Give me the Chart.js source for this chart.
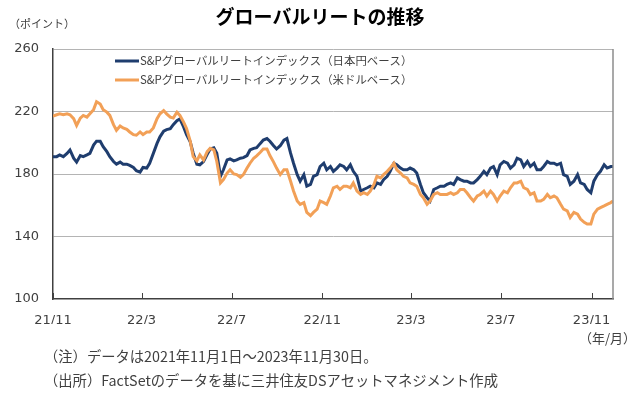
<!DOCTYPE html>
<html>
<head>
<meta charset="utf-8">
<script src="https://cdn.jsdelivr.net/npm/chart.js@4.4.1/dist/chart.umd.min.js"></script>
<style>
body{margin:0;background:#fff}
#wrap{width:640px;height:398px}
</style>
</head>
<body>
<div id="wrap"><canvas id="reitChart" width="640" height="398"></canvas></div>
<script>

/* =========================
   DATA (~every 4-5 days)
========================= */

let dates = [
"2021-11-01","2021-11-06","2021-11-10","2021-11-15","2021-11-20","2021-11-24","2021-11-29","2021-12-03","2021-12-08","2021-12-12",
"2021-12-17","2021-12-21","2021-12-26","2021-12-30","2022-01-04","2022-01-08","2022-01-13","2022-01-17","2022-01-22","2022-01-26",
"2022-01-31","2022-02-04","2022-02-09","2022-02-13","2022-02-18","2022-02-22","2022-02-27","2022-03-03","2022-03-08","2022-03-12",
"2022-03-17","2022-03-22","2022-03-26","2022-03-31","2022-04-04","2022-04-09","2022-04-13","2022-04-18","2022-04-22","2022-04-27",
"2022-05-01","2022-05-06",
"2022-05-10","2022-05-15","2022-05-19","2022-05-24","2022-05-29","2022-06-02","2022-06-07","2022-06-11","2022-06-16","2022-06-20",
"2022-06-25","2022-06-29","2022-07-04","2022-07-08","2022-07-13","2022-07-17","2022-07-22","2022-07-26","2022-07-31","2022-08-04",
"2022-08-09","2022-08-13","2022-08-18","2022-08-22","2022-08-27","2022-08-31","2022-09-05","2022-09-10","2022-09-14","2022-09-19",
"2022-09-23","2022-09-28","2022-10-02","2022-10-07","2022-10-11","2022-10-16","2022-10-20","2022-10-25","2022-10-29","2022-11-03",
"2022-11-07","2022-11-12","2022-11-16",
"2022-11-21","2022-11-25","2022-11-30","2022-12-04","2022-12-09","2022-12-13","2022-12-18","2022-12-23","2022-12-27","2023-01-01",
"2023-01-05","2023-01-10","2023-01-14","2023-01-19","2023-01-23","2023-01-28","2023-02-01","2023-02-06","2023-02-10","2023-02-15",
"2023-02-19","2023-02-24","2023-02-28","2023-03-05","2023-03-09","2023-03-14","2023-03-18","2023-03-23","2023-03-27","2023-04-01",
"2023-04-06","2023-04-10","2023-04-15","2023-04-19","2023-04-24","2023-04-28","2023-05-03","2023-05-07","2023-05-12","2023-05-16",
"2023-05-21","2023-05-25",
"2023-05-30","2023-06-03","2023-06-08","2023-06-12","2023-06-17","2023-06-21","2023-06-26","2023-06-30","2023-07-05","2023-07-10",
"2023-07-14","2023-07-19","2023-07-23","2023-07-28","2023-08-01","2023-08-06","2023-08-10","2023-08-15","2023-08-19","2023-08-24",
"2023-08-28","2023-09-02","2023-09-06","2023-09-11","2023-09-15","2023-09-20","2023-09-24","2023-09-29","2023-10-03","2023-10-08",
"2023-10-13","2023-10-17","2023-10-22","2023-10-26","2023-10-31","2023-11-04","2023-11-09","2023-11-13","2023-11-18","2023-11-22",
"2023-11-27","2023-11-30"
]

let yenValues = [
191.1,191.1,192.2,191.1,193.2,195.4,190.1,187.6,191.8,191.1,
192.2,193.2,198.5,201.0,201.0,197.5,194.3,191.1,188.0,186.3,
187.6,186.3,186.3,185.5,184.2,182.1,181.2,184.2,183.8,186.9,
193.2,199.6,203.8,207.4,208.4,209.0,211.6,214.1,215.3,210.1,
205.2,200.6,
193.3,186.3,185.9,188.0,192.6,196.0,196.8,193.3,178.5,182.7,
189.0,189.7,188.4,189.0,190.1,190.5,191.8,195.4,196.4,196.8,
199.6,201.7,202.7,201.0,198.1,196.0,198.1,201.7,202.7,193.3,
186.9,179.6,175.4,179.6,172.2,173.3,178.5,179.6,184.8,186.9,
182.7,184.8,181.7,
183.8,185.9,184.8,182.7,185.9,181.7,178.5,169.1,170.1,171.2,
172.2,171.2,174.3,173.3,176.4,178.5,181.7,186.9,185.9,183.8,
182.7,182.7,183.8,182.7,180.6,173.3,168.0,164.8,162.7,170.1,
171.2,172.2,172.2,173.3,174.3,173.3,177.5,176.4,175.4,175.4,
174.3,174.3,
176.4,178.5,181.7,179.6,183.8,184.8,179.6,185.9,188.0,186.9,
183.8,185.9,190.1,189.0,184.8,188.0,184.8,186.9,182.7,182.7,
184.8,188.0,186.9,186.9,185.9,186.9,179.6,178.5,173.3,175.4,
179.6,174.3,173.3,170.1,168.0,175.4,179.6,181.7,185.9,183.8,
184.8,184.8
]

let usdValues = [
217.0,217.9,218.5,217.9,218.5,217.9,215.4,211.1,215.8,217.5,
216.4,218.5,221.2,226.3,224.8,221.2,219.6,217.5,211.6,208.0,
210.7,209.5,208.6,206.9,205.2,204.8,206.9,205.2,206.9,206.9,
209.5,215.4,218.5,220.6,218.5,216.4,215.8,219.6,217.5,213.2,
209.1,201.0,
191.2,188.4,192.2,189.0,194.3,196.4,195.4,188.0,174.3,176.4,
180.6,182.7,180.0,179.6,177.9,179.6,183.8,186.9,190.1,191.6,
193.9,196.0,196.0,191.8,187.6,183.8,179.6,182.7,182.7,175.4,
169.1,162.7,160.6,161.7,155.4,153.3,155.4,157.5,162.7,161.7,
160.6,165.9,171.2,
172.2,170.1,172.2,172.2,171.2,174.3,169.1,166.9,168.0,166.9,
169.1,173.3,178.5,177.5,179.6,181.7,183.8,186.9,182.7,180.6,
178.5,177.5,174.3,173.3,172.2,166.9,164.8,160.6,162.7,166.9,
168.0,166.9,166.9,166.9,168.0,166.9,168.0,170.1,170.1,168.0,
164.8,162.7,
165.9,166.9,169.1,165.9,169.1,166.9,162.7,165.9,169.1,168.0,
171.2,174.3,174.3,175.4,171.2,170.1,166.9,168.0,162.7,162.7,
163.8,166.9,164.8,165.9,164.8,160.6,157.5,156.4,152.2,155.4,
154.3,151.2,149.1,148.0,148.0,154.3,157.5,158.5,159.6,160.6,
161.7,162.7
]

let seriesLabels = [
"S&Pグローバルリートインデックス（日本円ベース）",
"S&Pグローバルリートインデックス（米ドルベース）"
]

let tickDates = ["2021-11-01","2022-03-01","2022-07-01","2022-11-01","2023-03-01","2023-07-01","2023-11-01"]
let tickLabels = ["21/11","22/3","22/7","22/11","23/3","23/7","23/11"]
let yTicks = [100,140,180,220,260]

let titleText = "グローバルリートの推移"
let unitText = "（ポイント）"
let xUnitText = "（年/月）"
let notes = [
"（注）データは2021年11月1日～2023年11月30日。",
"（出所）FactSetのデータを基に三井住友DSアセットマネジメント作成"
]

/* =========================
   HELPERS
========================= */

let firstDay = Date.UTC(2021,10,1)

function dayOf(s){
let p = s.split("-")
return (Date.UTC(+p[0],+p[1]-1,+p[2]) - firstDay) / 86400000
}

let days = dates.map(dayOf)
let tickDays = tickDates.map(dayOf)

let blue = "#1f3d6e"
let orange = "#f2a057"
let textColor = "#404040"
let jpFont = "'Meiryo','Noto Sans CJK JP',sans-serif"

/* =========================
   EXTRA DRAWING
========================= */

let decorations = {
id:"decorations",
afterDraw(chart){
let ctx = chart.ctx
let area = chart.chartArea
let x = chart.scales.x

ctx.save()

/* right border */
ctx.strokeStyle = "#8c8c8c"
ctx.lineWidth = 1.5
ctx.beginPath()
ctx.moveTo(area.right, area.top)
ctx.lineTo(area.right, area.bottom)
ctx.stroke()

/* x tick marks inside */
ctx.strokeStyle = textColor
ctx.lineWidth = 1
tickDays.forEach(d=>{
let px = Math.round(x.getPixelForValue(d)) + 0.5
ctx.beginPath()
ctx.moveTo(px, area.bottom)
ctx.lineTo(px, area.bottom - 6)
ctx.stroke()
})

/* title */
ctx.fillStyle = "#000"
ctx.font = "bold 19px " + jpFont
ctx.textAlign = "center"
ctx.textBaseline = "middle"
ctx.fillText(titleText, 320, 17)

/* units */
ctx.fillStyle = textColor
ctx.font = "11px " + jpFont
ctx.textAlign = "left"
ctx.fillText(unitText, 9, 24)
ctx.font = "13px " + jpFont
ctx.textAlign = "right"
ctx.fillText(xUnitText, 636, 338)

/* notes */
ctx.textAlign = "left"
ctx.font = "14.3px " + jpFont
ctx.fillText(notes[0], 44, 357)
ctx.fillText(notes[1], 44, 381)

/* legend */
let colors = [blue, orange]
let rows = [61, 80]
ctx.font = "11.4px " + jpFont
ctx.lineWidth = 3
rows.forEach((ry,i)=>{
ctx.strokeStyle = colors[i]
ctx.beginPath()
ctx.moveTo(115, ry)
ctx.lineTo(139, ry)
ctx.stroke()
ctx.fillStyle = textColor
ctx.fillText(seriesLabels[i], 140, ry)
})

ctx.restore()
}
}

/* =========================
   CHART
========================= */

let ctx = document.getElementById("reitChart").getContext("2d")

let chart = new Chart(ctx,{
type:"line",
data:{
datasets:[
{
label:seriesLabels[0],
data:days.map((d,i)=>({x:d,y:yenValues[i]})),
borderColor:blue,
borderWidth:3,
pointRadius:0,
tension:0,
order:1
},
{
label:seriesLabels[1],
data:days.map((d,i)=>({x:d,y:usdValues[i]})),
borderColor:orange,
borderWidth:3,
pointRadius:0,
tension:0,
order:0
}
]
},
options:{
responsive:false,
animation:false,
layout:{padding:{top:49,right:27,bottom:74,left:0}},
plugins:{
legend:{display:false},
tooltip:{enabled:false}
},
scales:{
x:{
type:"linear",
min:0,
max:dayOf("2023-11-30"),
afterBuildTicks:s=>{ s.ticks = tickDays.map(v=>({value:v})) },
afterFit:s=>{ s.height = 25 },
grid:{display:false,drawTicks:false},
border:{display:true,color:textColor,width:1.5},
ticks:{
autoSkip:false,
maxRotation:0,
padding:14,
color:textColor,
font:{family:"DejaVu Sans",size:13},
callback:v=>tickLabels[tickDays.indexOf(v)]
}
},
y:{
min:100,
max:260,
afterBuildTicks:s=>{ s.ticks = yTicks.map(v=>({value:v})) },
afterFit:s=>{ s.width = 53 },
grid:{
drawTicks:false,
color:c=>c.tick.value===100 ? "rgba(0,0,0,0)" : "#b4b4b4",
lineWidth:1
},
border:{display:true,color:textColor,width:1.5},
ticks:{
padding:14,
color:textColor,
font:{family:"DejaVu Sans",size:13}
}
}
}
},
plugins:[decorations]
})

</script>
</body>
</html>
